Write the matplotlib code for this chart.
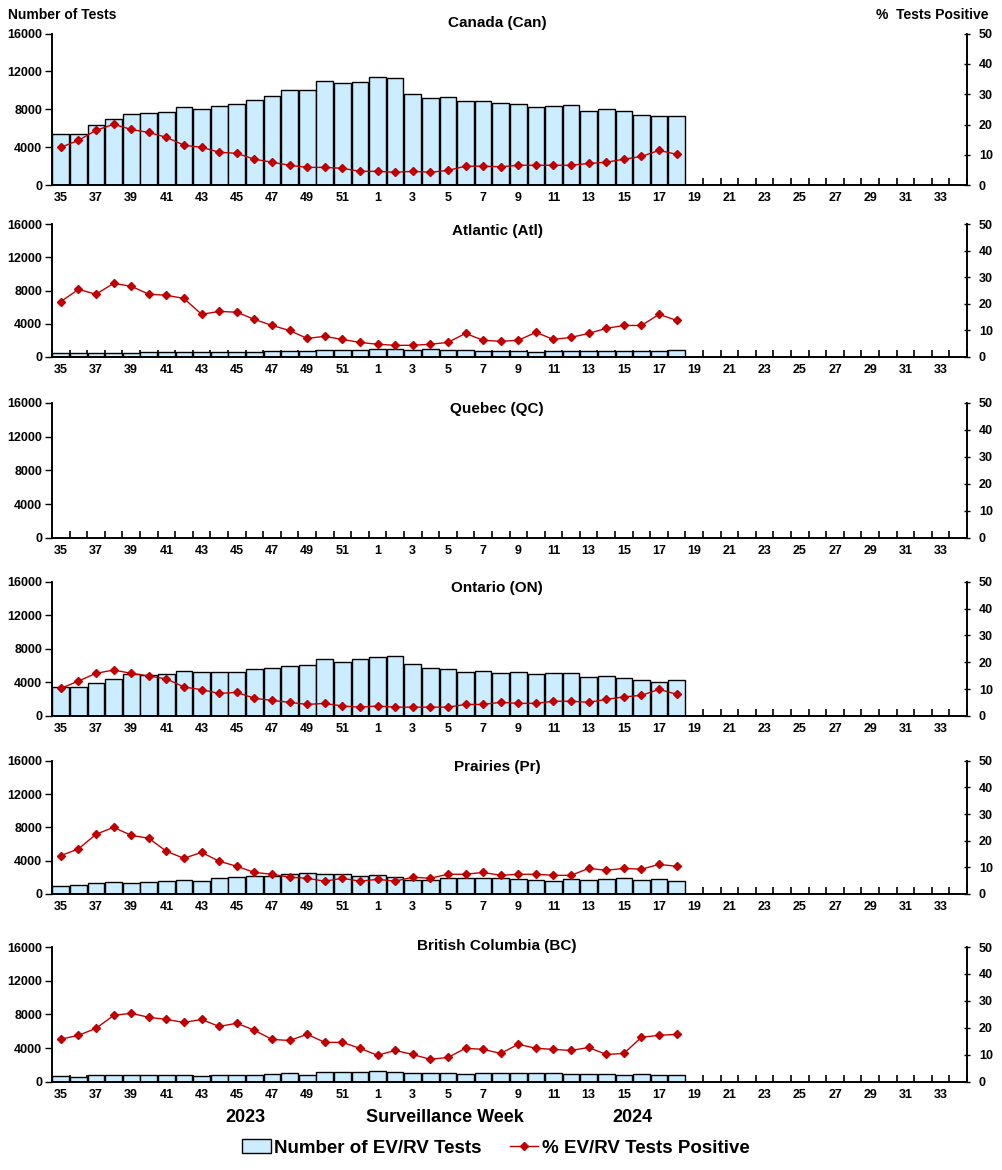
import numpy as np
import matplotlib.pyplot as plt
from matplotlib.lines import Line2D
from matplotlib.patches import Patch

# ============================================================
# DATA
# ============================================================
weeks = list(range(35, 53)) + list(range(1, 35))   # 52 surveillance weeks
tick_labels = [str(w) if i % 2 == 0 else '' for i, w in enumerate(weeks)]

regions = ['Canada (Can)', 'Atlantic (Atl)', 'Quebec (QC)',
           'Ontario (ON)', 'Prairies (Pr)', 'British Columbia (BC)']

can_tests = [5370, 5370, 6320, 6950, 7480, 7580, 7690, 8210, 8000, 8320,
             8530, 8950, 9370, 10000, 10000, 10990, 10740, 10850,
             11370, 11270, 9580, 9160, 9270, 8850, 8850, 8640, 8530, 8210,
             8320, 8420, 7790, 8000, 7790, 7370, 7270, 7270]
can_pct = [12.5, 14.8, 18.1, 20.1, 18.4, 17.4, 15.8, 13.2, 12.5, 10.9,
           10.5, 8.6, 7.6, 6.6, 5.9, 5.9, 5.6, 4.6,
           4.6, 4.3, 4.6, 4.3, 4.9, 6.3, 6.3, 6.1, 6.6, 6.6,
           6.6, 6.6, 7.2, 7.6, 8.6, 9.5, 11.5, 10.2]

atl_tests = [400, 400, 400, 400, 400, 520, 520, 520, 520, 520,
             520, 520, 680, 680, 680, 800, 800, 800,
             920, 920, 800, 920, 800, 800, 680, 680, 680, 520,
             680, 680, 680, 680, 680, 680, 680, 800]
atl_pct = [20.8, 25.4, 23.6, 27.7, 26.6, 23.6, 23.2, 22.0, 16.0, 17.1,
           16.8, 14.1, 11.8, 9.9, 6.9, 7.7, 6.5, 5.4,
           4.7, 4.3, 4.3, 4.7, 5.4, 8.8, 6.2, 5.8, 6.2, 9.2,
           6.5, 7.3, 8.8, 10.7, 11.8, 11.8, 16.0, 13.7]

qc_tests = []
qc_pct = []

on_tests = [3450, 3450, 3890, 4410, 5000, 4880, 5000, 5360, 5240, 5240,
            5240, 5600, 5720, 5960, 6070, 6790, 6430, 6790,
            7030, 7150, 6190, 5720, 5600, 5240, 5360, 5120, 5240, 5000,
            5120, 5120, 4650, 4760, 4530, 4290, 4050, 4290]
on_pct = [10.3, 13.0, 15.9, 17.1, 15.9, 14.9, 13.8, 10.8, 9.8, 8.4,
          8.8, 6.6, 5.8, 5.1, 4.3, 4.7, 3.7, 3.3,
          3.7, 3.3, 3.3, 3.3, 3.3, 4.3, 4.3, 5.1, 4.7, 4.7,
          5.5, 5.5, 5.1, 6.2, 7.1, 7.7, 9.9, 8.1]

pr_tests = [960, 1080, 1280, 1400, 1280, 1400, 1520, 1640, 1520, 1880,
            2000, 2120, 2120, 2360, 2480, 2360, 2360, 2120,
            2240, 2000, 1640, 1640, 1880, 1880, 1880, 1880, 1760, 1640,
            1520, 1760, 1640, 1760, 1880, 1640, 1760, 1520]
pr_pct = [14.4, 16.9, 22.4, 25.0, 22.0, 20.9, 16.0, 13.4, 15.6, 12.3,
          10.4, 8.1, 7.4, 6.3, 5.9, 4.8, 5.9, 4.8,
          5.5, 4.8, 6.3, 5.9, 7.4, 7.4, 8.1, 7.0, 7.4, 7.4,
          7.0, 7.0, 9.6, 8.9, 9.6, 9.3, 11.1, 10.4]

bc_tests = [630, 520, 750, 750, 750, 750, 750, 750, 630, 750,
            750, 750, 870, 990, 750, 1110, 1110, 1110,
            1230, 1110, 990, 990, 990, 870, 990, 990, 990, 990,
            990, 870, 870, 870, 750, 870, 750, 750]
bc_pct = [15.8, 17.2, 19.8, 24.6, 25.4, 23.9, 23.1, 22.0, 23.1, 20.5,
          21.7, 19.1, 15.7, 15.3, 17.6, 14.6, 14.6, 12.4,
          9.8, 11.6, 10.1, 8.3, 9.0, 12.4, 12.0, 10.5, 13.9, 12.4,
          12.0, 11.6, 12.7, 10.1, 10.5, 16.5, 17.2, 17.6]

tests = [can_tests, atl_tests, qc_tests, on_tests, pr_tests, bc_tests]
pct = [can_pct, atl_pct, qc_pct, on_pct, pr_pct, bc_pct]

# ============================================================
# LAYOUT (pixel positions of each panel: top, bottom)
# ============================================================
W, H = 1002, 1170
ax_left, ax_right = 52, 967
panel_px = [(33.5, 185.3), (224.3, 356.7), (403, 538),
            (581.7, 716), (760.7, 894), (947, 1081.7)]
title_y = [23, 231, 409, 588, 767, 946]

bar_color = '#CCECFF'
line_color = '#C00000'
font = 'Liberation Sans'

plt.rcParams['font.family'] = [font, 'DejaVu Sans']

fig = plt.figure(figsize=(W / 100, H / 100), dpi=100)

x = np.arange(len(weeks))

for i, region in enumerate(regions):
    top, bot = panel_px[i]
    ax = fig.add_axes([ax_left / W, 1 - bot / H,
                       (ax_right - ax_left) / W, (bot - top) / H])
    ax2 = ax.twinx()

    n = len(tests[i])
    if n:
        ax.bar(x[:n], tests[i], width=0.95, color=bar_color,
               edgecolor='black', linewidth=1, zorder=2)
    n2 = len(pct[i])
    if n2:
        ax2.plot(x[:n2], pct[i], color=line_color, marker='D', markersize=4,
                 linewidth=1, zorder=3)

    ax.set_xlim(-0.5, len(weeks) - 0.5)
    ax.set_ylim(0, 16000)
    ax2.set_ylim(0, 50)
    ax.set_yticks([0, 4000, 8000, 12000, 16000])
    ax2.set_yticks([0, 10, 20, 30, 40, 50])

    ax.set_xticks(x)
    ax.set_xticklabels(tick_labels)
    ax.set_xticks(np.arange(len(weeks) + 1) - 0.5, minor=True)
    ax.tick_params(axis='x', which='major', length=0, pad=5)
    ax.tick_params(axis='x', which='minor', length=5, direction='in',
                   width=1.2)
    ax.tick_params(axis='y', length=5, width=1, direction='out', pad=2)
    ax2.tick_params(axis='y', length=5, width=1, direction='inout', pad=6)

    for a in (ax, ax2):
        a.spines['top'].set_visible(False)
        for lab in a.get_xticklabels() + a.get_yticklabels():
            lab.set_fontweight('bold')
            lab.set_fontsize(9)
    for s in ('left', 'bottom', 'right'):
        ax2.spines[s].set_linewidth(1.2)
        ax.spines[s].set_linewidth(1.2)

    fig.text(497 / W, 1 - title_y[i] / H, region, ha='center', va='center',
             fontsize=11, fontweight='bold')

fig.text(8 / W, 1 - 15 / H, 'Number of Tests', ha='left', va='center',
         fontsize=10, fontweight='bold')
fig.text(988 / W, 1 - 15 / H, '%  Tests Positive', ha='right', va='center',
         fontsize=10, fontweight='bold')

fig.text(245 / W, 1 - 1117 / H, '2023', ha='center', va='center',
         fontsize=13, fontweight='bold')
fig.text(445 / W, 1 - 1117 / H, 'Surveillance Week', ha='center',
         va='center', fontsize=13, fontweight='bold')
fig.text(632 / W, 1 - 1117 / H, '2024', ha='center', va='center',
         fontsize=13, fontweight='bold')

handles = [Patch(facecolor=bar_color, edgecolor='black', linewidth=1),
           Line2D([], [], color=line_color, marker='D', markersize=4,
                  linewidth=1)]
fig.legend(handles, ['Number of EV/RV Tests', '% EV/RV Tests Positive'],
           loc='center', bbox_to_anchor=(496 / W, 1 - 1148 / H), ncol=2,
           frameon=False, prop={'size': 13.5, 'weight': 'bold'},
           handlelength=1.5, handletextpad=0.2, columnspacing=1.5)

plt.savefig('out.png', dpi=100)
